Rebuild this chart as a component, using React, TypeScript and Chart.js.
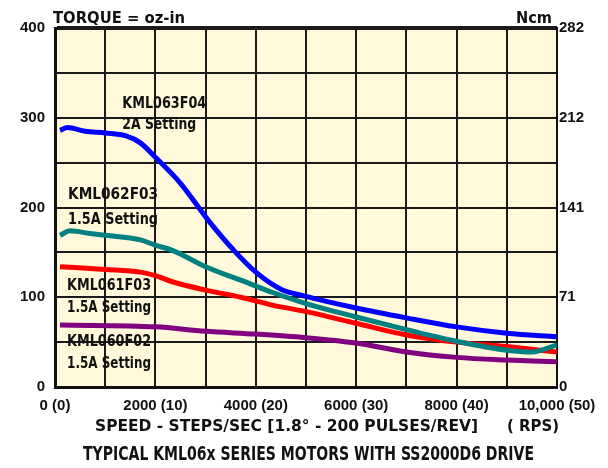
import React, { useEffect, useRef } from "react";
import { Chart, registerables } from "chart.js";

Chart.register(...registerables);

// ---- data ----
const seriesNames = ["KML063F04", "KML062F03", "KML061F03", "KML060F02"];
const settingLabels = ["2A Setting", "1.5A Setting", "1.5A Setting", "1.5A Setting"];
const seriesColors = ["#0000FF", "#008080", "#FF0000", "#800080"];

const speedF04 = [100, 250, 600, 1000, 1400, 1700, 2000, 2500, 3050, 3600, 4000, 4500, 5000, 6000, 7000, 8000, 9000, 10000];
const torqueF04 = [286, 289, 285, 283, 280, 272, 256, 227, 186, 150, 128, 109, 101, 88, 77, 67, 60, 56];

const speed62F03 = [100, 300, 700, 1000, 1700, 2000, 2350, 3000, 3700, 4350, 5000, 6000, 7000, 8000, 9000, 9500, 10000];
const torque62F03 = [169, 174, 171, 169, 164, 158, 152, 134, 119, 105, 93, 78, 64, 51, 41, 39, 47];

const speed61F03 = [100, 1000, 1700, 2000, 2350, 3000, 3700, 4350, 5000, 6000, 7000, 8000, 9000, 10000];
const torque61F03 = [134, 131, 128, 124, 117, 108, 100, 91, 84, 71, 58, 50, 45, 39];

const speed60F02 = [100, 2000, 3000, 4000, 5000, 6000, 7000, 8000, 9000, 10000];
const torque60F02 = [69, 67, 62, 59, 55, 49, 39, 33, 30, 28];

const xTickValues = [0, 2000, 4000, 6000, 8000, 10000];
const xTickLabels = ["0 (0)", "2000 (10)", "4000 (20)", "6000 (30)", "8000 (40)", "10,000 (50)"];
const leftTickValues = [0, 100, 200, 300, 400];
const rightTickLabels = ["0", "71", "141", "212", "282"];

const leftAxisTitle = "TORQUE = oz-in";
const rightAxisTitle = "Ncm";
const xAxisTitle = "SPEED - STEPS/SEC [1.8\u00B0 - 200 PULSES/REV]";
const xAxisUnit = "( RPS)";
const chartTitle = "TYPICAL KML06x SERIES MOTORS WITH SS2000D6 DRIVE";

// ---- layout / style ----
const W = 608;
const H = 468;
const NARROW = "'Liberation Sans Narrow', 'Arial Narrow', 'DejaVu Sans Condensed', 'Liberation Sans', sans-serif";
const TICKFONT = "'Liberation Sans', Arial, sans-serif";
const INK = "#111111";
const PLOT_BG = "#FFF8DA";

// label anchors in data coordinates (left x, centre y of first line)
const labelAnchors = [
  { x: 1340, y: 316, dy: 21 },
  { x: 260, y: 214, dy: 25 },
  { x: 240, y: 113, dy: 22 },
  { x: 240, y: 50, dy: 22 },
];
const labelWidths = [
  [84, 74],
  [90, 90],
  [84, 84],
  [84, 84],
];

function fitText(ctx: CanvasRenderingContext2D, text: string, x: number, y: number, width: number, font: string) {
  ctx.save();
  ctx.font = font;
  ctx.textBaseline = "middle";
  ctx.textAlign = "left";
  const w = ctx.measureText(text).width;
  ctx.translate(x, y);
  ctx.scale(width / w, 1);
  ctx.fillStyle = INK;
  ctx.fillText(text, 0, 0);
  ctx.restore();
}

const bgPlugin = {
  id: "plotBg",
  beforeDraw(chart: any) {
    const { ctx, chartArea } = chart;
    ctx.save();
    ctx.fillStyle = "#ffffff";
    ctx.fillRect(0, 0, chart.width, chart.height);
    ctx.fillStyle = PLOT_BG;
    ctx.fillRect(chartArea.left, chartArea.top, chartArea.right - chartArea.left, chartArea.bottom - chartArea.top);
    ctx.restore();
  },
};

const textPlugin = {
  id: "texts",
  afterDraw(chart: any) {
    const { ctx, chartArea, scales } = chart;
    const L = chartArea.left;
    const R = chartArea.right;
    const B = chartArea.bottom;
    const T = chartArea.top;
    fitText(ctx, leftAxisTitle, L - 2, T - 9, 132, `bold 16px ${NARROW}`);
    fitText(ctx, rightAxisTitle, R - 41, T - 9, 36, `bold 16px ${NARROW}`);
    fitText(ctx, xAxisTitle, 95, B + 40, 383, `bold 16px ${NARROW}`);
    fitText(ctx, xAxisUnit, 507, B + 40, 52, `bold 16px ${NARROW}`);
    fitText(ctx, chartTitle, 83, B + 68, 451, `bold 20px ${NARROW}`);
    labelAnchors.forEach((a, i) => {
      const px = scales.x.getPixelForValue(a.x);
      const py = scales.y.getPixelForValue(a.y);
      fitText(ctx, seriesNames[i], px, py, labelWidths[i][0], `bold 16px ${NARROW}`);
      fitText(ctx, settingLabels[i], px, py + a.dy, labelWidths[i][1], `bold 16px ${NARROW}`);
    });
  },
};

function toPoints(xs: number[], ys: number[]) {
  return xs.map((x, i) => ({ x, y: ys[i] }));
}

export default function App() {
  const ref = useRef<HTMLCanvasElement | null>(null);

  useEffect(() => {
    if (!ref.current) return;
    const allX = [speedF04, speed62F03, speed61F03, speed60F02];
    const allY = [torqueF04, torque62F03, torque61F03, torque60F02];
    const chart = new Chart(ref.current, {
      type: "line",
      data: {
        datasets: seriesNames.map((name, i) => ({
          label: name,
          data: toPoints(allX[i], allY[i]),
          borderColor: seriesColors[i],
          backgroundColor: seriesColors[i],
          borderWidth: 5,
          pointRadius: 0,
          cubicInterpolationMode: "monotone" as const,
          fill: false,
        })),
      },
      options: {
        animation: false,
        responsive: false,
        devicePixelRatio: 1,
        layout: { padding: { top: 28, left: 0, right: 0, bottom: 0 } },
        plugins: { legend: { display: false }, tooltip: { enabled: false }, title: { display: false } },
        scales: {
          x: {
            type: "linear",
            min: 0,
            max: 10000,
            afterFit: (s: any) => {
              s.height = 81;
            },
            ticks: {
              stepSize: 1000,
              autoSkip: false,
              maxRotation: 0,
              padding: 10,
              color: INK,
              font: { family: TICKFONT, size: 15, weight: "bold" },
              callback: (v: any) => {
                const i = xTickValues.indexOf(Number(v));
                return i >= 0 ? xTickLabels[i] : "";
              },
            },
            grid: { color: "#1a1a1a", lineWidth: 2, drawTicks: false },
            border: { color: INK, width: 3 },
          },
          y: {
            position: "left",
            min: 0,
            max: 400,
            afterFit: (s: any) => {
              s.width = 55;
            },
            ticks: {
              stepSize: 50,
              autoSkip: false,
              padding: 10,
              color: INK,
              font: { family: TICKFONT, size: 15, weight: "bold" },
              callback: (v: any) => (leftTickValues.includes(Number(v)) ? String(v) : ""),
            },
            grid: {
              color: "#1a1a1a",
              lineWidth: (c: any) => (c.tick && c.tick.value === 400 ? 4 : 2),
              drawTicks: false,
            },
            border: { color: INK, width: 3 },
          },
          y2: {
            position: "right",
            min: 0,
            max: 400,
            afterFit: (s: any) => {
              s.width = W - 557;
            },
            ticks: {
              stepSize: 100,
              autoSkip: false,
              padding: 2,
              color: INK,
              font: { family: TICKFONT, size: 15, weight: "bold" },
              callback: (v: any) => {
                const i = leftTickValues.indexOf(Number(v));
                return i >= 0 ? rightTickLabels[i] : "";
              },
            },
            grid: { drawOnChartArea: false, drawTicks: false },
            border: { color: INK, width: 2 },
          },
        },
      },
      plugins: [bgPlugin, textPlugin],
    });
    return () => chart.destroy();
  }, []);

  return (
    <div style={{ position: "fixed", left: 0, top: 0, width: W, height: H, background: "#fff" }}>
      <canvas ref={ref} width={W} height={H} style={{ display: "block" }} />
    </div>
  );
}
